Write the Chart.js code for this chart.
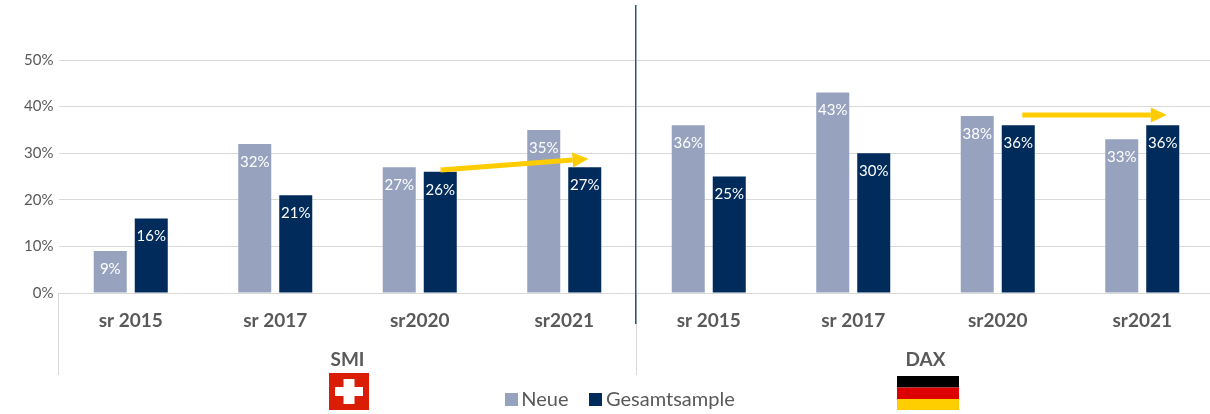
<!DOCTYPE html>
<html><head><meta charset="utf-8">
<style>html,body{margin:0;padding:0;background:#fff;overflow:hidden;width:1210px;height:414px}canvas{display:block}</style>
<script src="https://cdn.jsdelivr.net/npm/chart.js@4"></script>
</head><body><canvas id="c" width="1240" height="414" style="width:1240px;height:414px"></canvas>
<script>
const categories = ["sr 2015","sr 2017","sr2020","sr2021","sr 2015","sr 2017","sr2020","sr2021"];
const neue = [9,32,27,35,36,43,38,33];
const gesamt = [16,21,26,27,25,30,36,36];
const groups = [{name:"SMI",from:0,to:3,flag:"ch"},{name:"DAX",from:4,to:7,flag:"de"}];
const arrows = [{x0:2.144,y0:26.4,x1:3.168,y1:28.8},{x0:6.17,y0:38.2,x1:7.17,y1:38.2}];
const yTicksMax = 50;
const FONT = "Lato, Carlito, sans-serif";
const GREY = "#595959";
const NEUE_COLOR = "#97A3BE";
const GESAMT_COLOR = "#002B5A";

function swatch(color){
  const c=document.createElement("canvas"); c.width=13; c.height=13;
  const g=c.getContext("2d"); g.fillStyle=color; g.fillRect(0,0,13,13);
  return c;
}

const overlay = {
  id:"overlay",
  afterLayout(chart){ chart.legend.left+=4.5; chart.legend.right+=4.5; },
  afterDatasetsDraw(chart){
    const {ctx} = chart, x = chart.scales.x, y = chart.scales.y;
    ctx.save();
    ctx.font = "15px "+FONT; ctx.fillStyle="#fff"; ctx.textAlign="center"; ctx.textBaseline="middle";
    chart.data.datasets.forEach((ds,i)=>{
      chart.getDatasetMeta(i).data.forEach((el,j)=>{
        ctx.fillText(ds.data[j]+"%", el.x, el.y+18);
      });
    });
    ctx.strokeStyle=ctx.fillStyle="#FFCC00";
    arrows.forEach(a=>{
      const x0=x.getPixelForValue(a.x0), y0=y.getPixelForValue(a.y0), x1=x.getPixelForValue(a.x1), y1=y.getPixelForValue(a.y1);
      const t=Math.atan2(y1-y0,x1-x0), L=16, W=7.5;
      const bx=x1-L*Math.cos(t), by=y1-L*Math.sin(t);
      ctx.lineWidth=5; ctx.beginPath(); ctx.moveTo(x0,y0); ctx.lineTo(bx,by); ctx.stroke();
      ctx.beginPath(); ctx.moveTo(x1,y1);
      ctx.lineTo(bx-W*Math.sin(t),by+W*Math.cos(t));
      ctx.lineTo(bx+W*Math.sin(t),by-W*Math.cos(t));
      ctx.closePath(); ctx.fill();
    });
    const sep = i => x.getPixelForValue(i);
    const base = y.getPixelForValue(0);
    ctx.strokeStyle="#d9d9d9"; ctx.lineWidth=1;
    [-0.5,3.5].forEach(v=>{
      const px=Math.floor(sep(v))+0.5;
      ctx.beginPath(); ctx.moveTo(px,base); ctx.lineTo(px,base+82); ctx.stroke();
    });
    const dx=Math.floor(sep(3.5))-0.25;
    ctx.strokeStyle="#2C5680"; ctx.lineWidth=1.5;
    ctx.beginPath(); ctx.moveTo(dx,y.getPixelForValue(61.8)); ctx.lineTo(dx,base+31); ctx.stroke();
    groups.forEach(g=>{
      const cx=sep((g.from+g.to)/2);
      ctx.font="bold 19px "+FONT; ctx.fillStyle=GREY; ctx.textAlign="center"; ctx.textBaseline="middle";
      ctx.fillText(g.name,cx,base+67);
      if(g.flag==="ch"){
        const l=Math.floor(cx-18),t=base+80;
        ctx.fillStyle="#DA1E05"; ctx.fillRect(l,t,40,37);
        ctx.fillStyle="#fff"; ctx.fillRect(l+6,t+14,28,9); ctx.fillRect(l+14.5,t+6,11,25);
      } else {
        const l=Math.floor(cx-28),t=base+83,w=62;
        ctx.fillStyle="#000"; ctx.fillRect(l,t,w,11.5);
        ctx.fillStyle="#DD0000"; ctx.fillRect(l,t+11.5,w,11.5);
        ctx.fillStyle="#FFCE00"; ctx.fillRect(l,t+23,w,11);
      }
    });
    ctx.restore();
  }
};

new Chart(document.getElementById("c"),{
  type:"bar",
  data:{labels:categories,datasets:[
    {label:"Neue",data:neue,backgroundColor:NEUE_COLOR,barPercentage:0.805,categoryPercentage:0.5675},
    {label:"Gesamtsample",data:gesamt,backgroundColor:GESAMT_COLOR,barPercentage:0.805,categoryPercentage:0.5675}
  ]},
  options:{
    responsive:false,animation:false,
    layout:{padding:{top:60,right:25.5,left:22,bottom:-5.5}},
    plugins:{
      tooltip:{enabled:false},
      legend:{display:true,position:"bottom",
        labels:{font:{family:FONT,size:20},color:GREY,boxHeight:13,padding:27,
          usePointStyle:true,pointStyleWidth:0.5,
          generateLabels(chart){
            return Chart.defaults.plugins.legend.labels.generateLabels(chart).map((it,i)=>
              Object.assign(it,{pointStyle:swatch(i?GESAMT_COLOR:NEUE_COLOR)}));
          }}}
    },
    scales:{
      x:{
        grid:{display:false},border:{color:"#d9d9d9"},
        ticks:{font:{family:FONT,size:19,weight:"bold"},color:GREY,padding:8,maxRotation:0,autoSkip:false},
        afterFit(s){s.height=69.5;}
      },
      y:{
        min:0,max:yTicksMax,
        grid:{color:"#d9d9d9",tickLength:0,drawTicks:false},border:{display:false},
        ticks:{stepSize:10,font:{family:FONT,size:15},color:GREY,padding:5,callback:v=>v+"%"},
        afterFit(s){s.width=36.5;}
      }
    }
  },
  plugins:[overlay]
});
</script></body></html>
